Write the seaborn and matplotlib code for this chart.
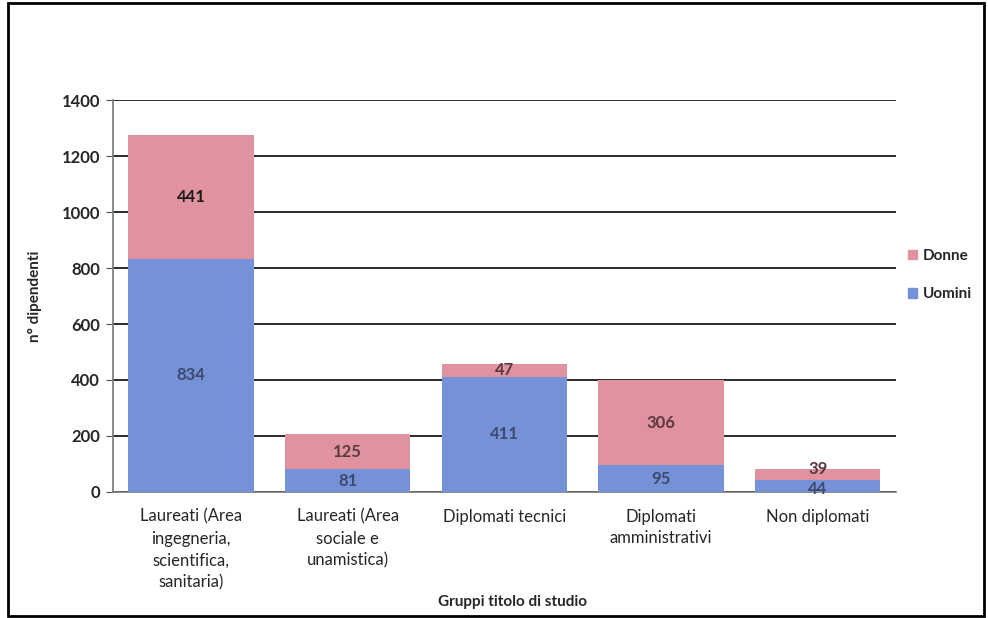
import matplotlib
matplotlib.use("Agg")
import matplotlib.pyplot as plt
import seaborn as sns
import pandas as pd
import numpy as np
from matplotlib.patches import Patch, Rectangle

# data
categorie = [
    "Laureati (Area\ningegneria,\nscientifica,\nsanitaria)",
    "Laureati (Area\nsociale e\nunamistica)",
    "Diplomati tecnici",
    "Diplomati\namministrativi",
    "Non diplomati",
]
uomini = [834, 81, 411, 95, 44]
donne = [441, 125, 47, 306, 39]
y_ticks = [0, 200, 400, 600, 800, 1000, 1200, 1400]

col_uomini = "#7592d8"
col_donne = "#e0939e"

df = pd.DataFrame({"gruppo": categorie, "Uomini": uomini, "Donne": donne})
df["Totale"] = df["Uomini"] + df["Donne"]

sns.set_style("white")
plt.rcParams["font.family"] = ["Lato", "DejaVu Sans"]

fig = plt.figure(figsize=(9.88, 6.18), dpi=100)
ax = fig.add_axes([0.114, 0.204, 0.793, 0.634])

# stacked: total in pink behind, men in blue on top
sns.barplot(data=df, x="gruppo", y="Totale", color=col_donne, width=0.8,
            saturation=1, linewidth=0, ax=ax, zorder=3)
sns.barplot(data=df, x="gruppo", y="Uomini", color=col_uomini, width=0.8,
            saturation=1, linewidth=0, ax=ax, zorder=4)

# value labels in the middle of each segment (small segments pushed apart)
for i in range(len(categorie)):
    off_u = -2 if donne[i] < 60 and uomini[i] < 60 else 0
    off_d = 4 if donne[i] < 60 and uomini[i] < 60 else 0
    ax.annotate(str(uomini[i]), (i, uomini[i] / 2), xytext=(0, off_u),
                textcoords="offset points", ha="center", va="center",
                fontsize=12, fontweight="bold", color="#3d4a6e", zorder=5)
    ax.annotate(str(donne[i]), (i, uomini[i] + donne[i] / 2), xytext=(0, off_d),
                textcoords="offset points", ha="center", va="center",
                fontsize=12, fontweight="bold",
                color="#1a1a1a" if i == 0 else "#5a3a40", zorder=5)

ax.set_ylim(0, 1400)
ax.set_xlim(-0.5, len(categorie) - 0.5)
ax.set_yticks(y_ticks)
ax.set_yticklabels([str(t) for t in y_ticks], fontsize=12, fontweight="bold")
ax.yaxis.grid(True, color="#2a2a2a", linewidth=1.4)
ax.set_axisbelow(True)

# category ticks on the boundaries, Excel style
ax.set_xticks(range(len(categorie)))
ax.set_xticklabels(categorie, fontsize=12, linespacing=1.45)
ax.set_xticks(np.arange(-0.5, len(categorie)), minor=True)
ax.tick_params(axis="x", which="major", length=0, pad=12)
ax.tick_params(axis="x", which="minor", length=5, color="#555555", direction="out")
ax.tick_params(axis="y", length=5, color="#555555", direction="out", left=True, pad=4)

for s in ["top", "right"]:
    ax.spines[s].set_visible(False)
for s in ["left", "bottom"]:
    ax.spines[s].set_color("#777777")
    ax.spines[s].set_linewidth(1.2)

ax.set_xlabel("Gruppi titolo di studio", fontsize=11, fontweight="bold")
ax.set_ylabel("n° dipendenti", fontsize=11, fontweight="bold")
ax.xaxis.set_label_coords(0.51, -0.262)
ax.yaxis.set_label_coords(-0.09, 0.5)

# legend on the right
handles = [Patch(color=col_donne, label="Donne"), Patch(color=col_uomini, label="Uomini")]
fig.legend(handles=handles, loc="center left", bbox_to_anchor=(0.905, 0.555),
           frameon=False, handlelength=0.6, handleheight=0.6,
           handletextpad=0.4, labelspacing=1.6, prop={"weight": "bold", "size": 11})

# outer frame of the chart area
fig.patches.append(Rectangle((0.008, 0.004), 0.988, 0.991, transform=fig.transFigure,
                             fill=False, edgecolor="black", linewidth=2))

fig.savefig("out.png", dpi=100)
